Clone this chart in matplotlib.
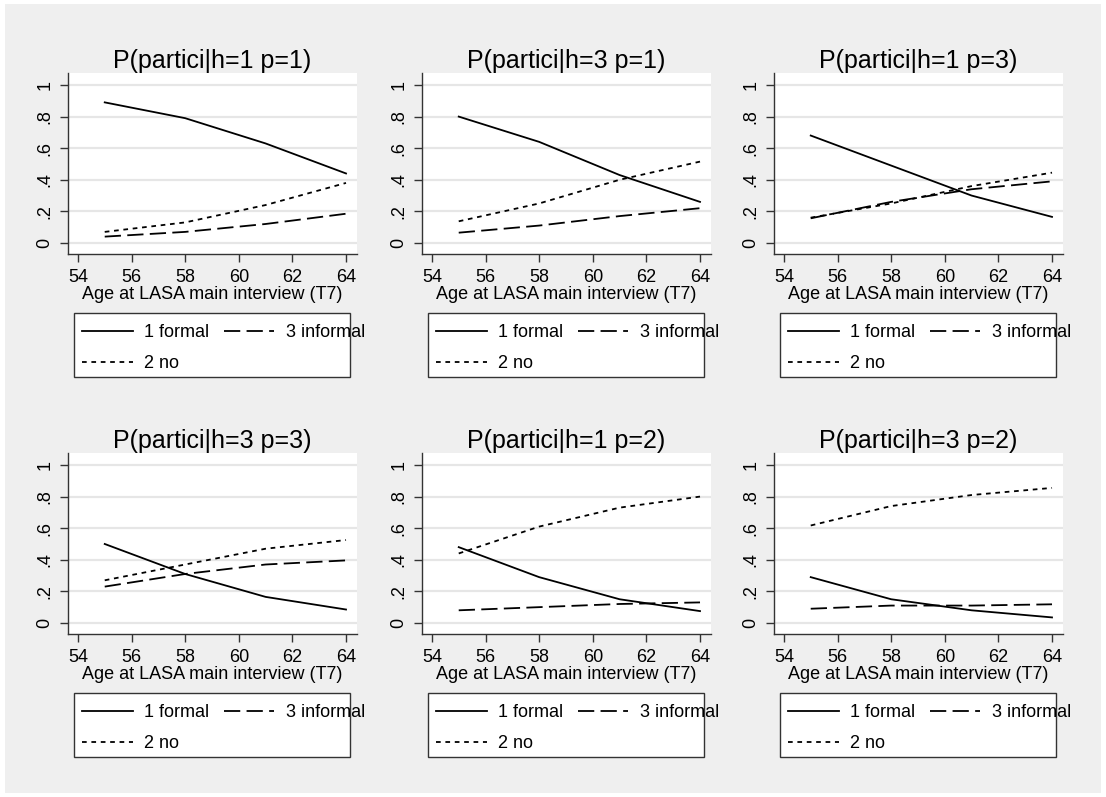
import matplotlib.pyplot as plt
from matplotlib.patches import Rectangle
import numpy as np

plt.rcParams['font.family'] = ['Liberation Sans', 'DejaVu Sans']

# ages where the predictions are evaluated
ages = [55, 58, 61, 64]

titles = ['P(partici|h=1 p=1)', 'P(partici|h=3 p=1)', 'P(partici|h=1 p=3)',
          'P(partici|h=3 p=3)', 'P(partici|h=1 p=2)', 'P(partici|h=3 p=2)']

# predicted probabilities per panel
formal = [[0.89, 0.79, 0.63, 0.44],
          [0.80, 0.64, 0.43, 0.26],
          [0.68, 0.49, 0.30, 0.165],
          [0.50, 0.31, 0.165, 0.085],
          [0.48, 0.29, 0.15, 0.075],
          [0.29, 0.15, 0.08, 0.035]]
no = [[0.07, 0.13, 0.24, 0.38],
      [0.137, 0.25, 0.40, 0.515],
      [0.16, 0.25, 0.36, 0.445],
      [0.27, 0.37, 0.47, 0.525],
      [0.44, 0.61, 0.73, 0.80],
      [0.617, 0.74, 0.81, 0.855]]
informal = [[0.04, 0.07, 0.12, 0.185],
            [0.065, 0.11, 0.17, 0.22],
            [0.156, 0.26, 0.34, 0.39],
            [0.23, 0.31, 0.37, 0.396],
            [0.08, 0.10, 0.12, 0.13],
            [0.09, 0.11, 0.11, 0.118]]

xticks = [54, 56, 58, 60, 62, 64]
yticks = [0, 0.2, 0.4, 0.6, 0.8, 1]
ytick_labels = ['0', '.2', '.4', '.6', '.8', '1']

W, H = 1106, 797
fig = plt.figure(figsize=(W / 100, H / 100), dpi=100)
fig.patch.set_facecolor('white')
fig.patches.append(Rectangle((5 / W, 4 / H), 1096 / W, 789 / H, transform=fig.transFigure,
                             facecolor='#efefef', edgecolor='none', zorder=-10))

lefts = [68, 422, 774]
tops = [73, 453]
pw, ph = 289, 181

for i in range(6):
    r, c = divmod(i, 3)
    ax = fig.add_axes([lefts[c] / W, 1 - (tops[r] + ph) / H, pw / W, ph / H])
    ax.set_facecolor('white')
    for s in ['top', 'right']:
        ax.spines[s].set_visible(False)
    for s in ['left', 'bottom']:
        ax.spines[s].set_color('#333333')
        ax.spines[s].set_linewidth(1.0)

    ax.set_xlim(53.63, 64.41)
    ax.set_ylim(-0.07, 1.076)
    ax.set_xticks(xticks)
    ax.set_yticks(yticks)
    ax.set_yticklabels(ytick_labels, rotation=90, va='center')
    ax.tick_params(axis='both', labelsize=13, length=6, color='#333333', width=1.0)
    ax.tick_params(axis='y', pad=4.5)
    ax.tick_params(axis='x', pad=4.5)
    ax.grid(axis='y', color='#e6e6e6', linewidth=1.6)
    ax.set_axisbelow(True)

    l1, = ax.plot(ages, formal[i], color='black', lw=1.3, label='1 formal')
    l2, = ax.plot(ages, no[i], color='black', lw=1.3, dashes=(2.6, 2.6), label='2 no')
    l3, = ax.plot(ages, informal[i], color='black', lw=1.3, dashes=(9, 3.5), label='3 informal')

    ax.text(0.5, 1.066, titles[i], transform=ax.transAxes, ha='center', va='center',
            fontsize=18)
    ax.set_xlabel('Age at LASA main interview (T7)', fontsize=13)
    ax.xaxis.set_label_coords(0.5, -0.175)

    # legend box, text of the second column runs past its right edge as in the original
    ax.add_patch(Rectangle((6 / pw, -123 / ph), 276 / pw, 64 / ph, transform=ax.transAxes,
                           facecolor='white', edgecolor='#333333', lw=1.0, clip_on=False))
    ax.legend(handles=[l1, l2, l3], loc='upper left', bbox_to_anchor=(14 / pw, -70 / ph),
              ncol=2, frameon=False, fontsize=13, handlelength=2.8, handletextpad=0.65,
              columnspacing=0.8, labelspacing=0.8, borderpad=0, borderaxespad=0)

fig.savefig('out.png', dpi=100, facecolor='white')
